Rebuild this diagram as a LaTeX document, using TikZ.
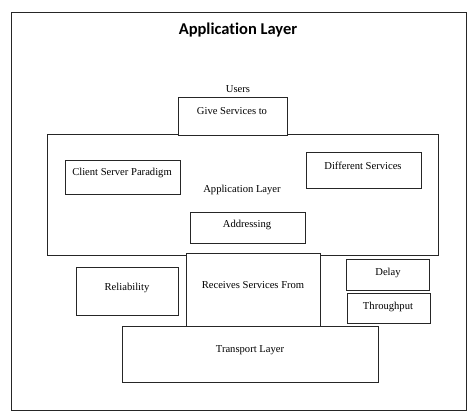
\documentclass[tikz,border=0pt]{standalone}
\usepackage{fontspec}
\setmainfont{Liberation Serif}
\newfontfamily\titlefont[Ligatures={NoCommon}]{Carlito}
\begin{document}
\begin{tikzpicture}[x=1pt,y=-1pt,
  box/.style={draw=black!85, line width=1.2pt, fill=white, inner sep=0pt, font=\fontsize{10.5}{12}\selectfont},
  plain/.style={inner sep=0pt, font=\fontsize{10.6}{12}\selectfont}]
\useasboundingbox (0,0) rectangle (474,417);
\fill[white] (0,0) rectangle (474,417);
% outer frame
\node[box, anchor=north west, minimum width=455pt, minimum height=398pt] (frame) at (11,12) {};
\node[inner sep=0pt, font=\titlefont\bfseries\fontsize{16.5}{18}\selectfont] (title) at (238,30) {Application Layer};
% application layer box
\node[box, anchor=north west, minimum width=391pt, minimum height=121pt] (app) at (47,134) {};
\node[plain] (applabel) at (242,190) {Application Layer};
\node[plain] (users) at (238,89) {Users};
\node[box, anchor=north west, minimum width=109pt, minimum height=38pt] (give) at (178,97) {};
\node[plain] (givelabel) at (232,111) {Give Services to};
\node[box, anchor=north west, minimum width=115pt, minimum height=34pt] (csp) at (65,160) {};
\node[plain] (csplabel) at (122,173) {Client Server Paradigm};
\node[box, anchor=north west, minimum width=115pt, minimum height=36pt] (diff) at (306,152) {};
\node[plain] (difflabel) at (363,166) {Different Services};
\node[box, anchor=north west, minimum width=115pt, minimum height=31pt] (addr) at (190,212) {};
\node[plain] (addrlabel) at (247,225) {Addressing};
% lower boxes
\node[box, anchor=north west, minimum width=134pt, minimum height=74pt] (recv) at (186,253) {};
\node[plain] (recvlabel) at (253,285) {Receives Services From};
\node[box, anchor=north west, minimum width=102pt, minimum height=48pt] (rel) at (76,267) {};
\node[plain] (rellabel) at (127,288) {Reliability};
\node[box, anchor=north west, minimum width=83pt, minimum height=31pt] (delay) at (346,259) {};
\node[plain] (delaylabel) at (388,273) {Delay};
\node[box, anchor=north west, minimum width=83pt, minimum height=30pt] (thr) at (347,293) {};
\node[plain] (thrlabel) at (388,307) {Throughput};
\node[box, anchor=north west, minimum width=256pt, minimum height=56pt] (trans) at (122,326) {};
\node[plain] (translabel) at (250,350) {Transport Layer};
\end{tikzpicture}
\end{document}
